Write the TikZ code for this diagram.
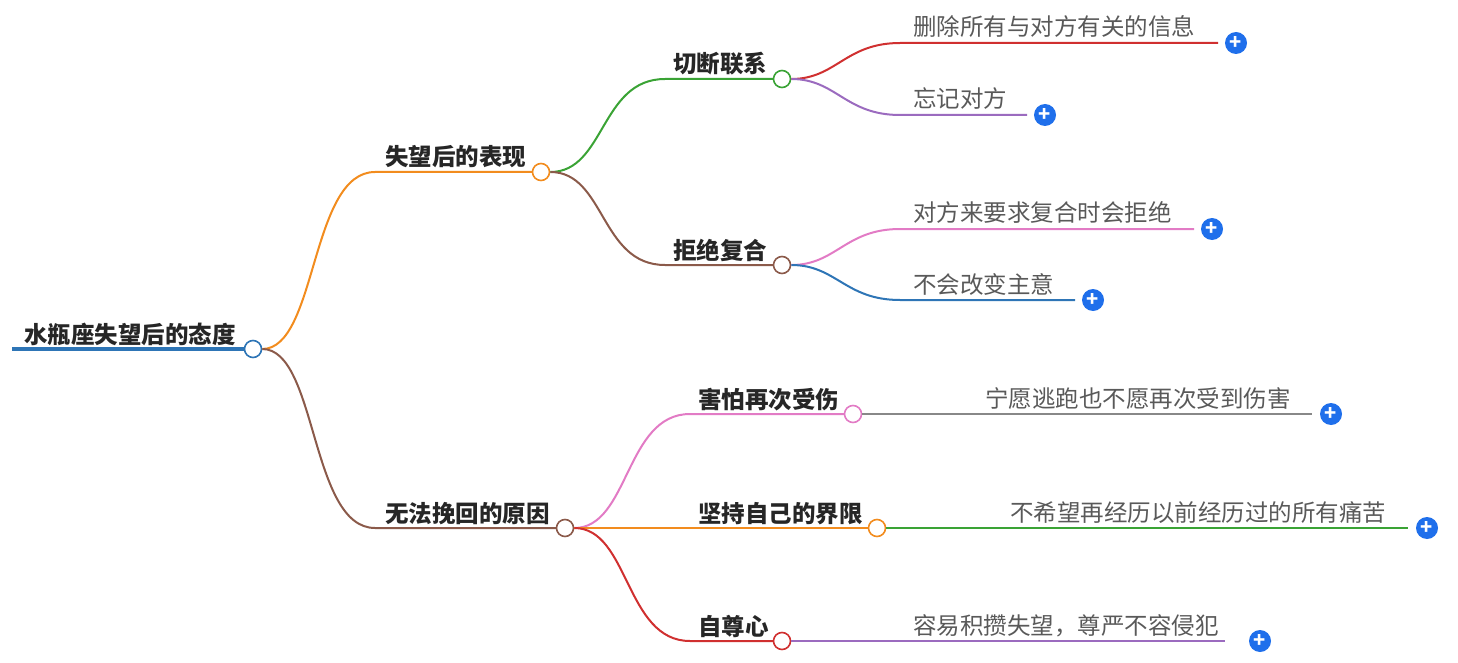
\documentclass[tikz,border=0pt]{standalone}
\usepackage{fontspec}
\setmainfont{Noto Sans CJK SC}
\begin{document}
\begin{tikzpicture}[x=1pt,y=-1pt,
  dot/.style={circle,draw=#1,fill=white,line width=1.6pt,minimum size=17pt,inner sep=0pt},
  br/.style={line width=2pt,draw=#1},
  lbl/.style={font=\fontsize{23.5}{23}\selectfont\bfseries,text=black!85,anchor=base west,inner sep=0pt},
  leaf/.style={font=\fontsize{23.5}{23}\selectfont,text=black!65,anchor=base west,inner sep=0pt},
  plus/.style={circle,fill=blue!70!cyan!90!black,minimum size=22pt,inner sep=0pt,text=white,font=\fontsize{20}{20}\selectfont\bfseries}]
\useasboundingbox (0,0) rectangle (1458,663);
\definecolor{cor}{HTML}{F28C1E}\definecolor{cbr}{HTML}{8B5A4A}\definecolor{cgr}{HTML}{3AA335}
\definecolor{cre}{HTML}{D03030}\definecolor{cpu}{HTML}{9B6BBF}\definecolor{cpi}{HTML}{E27BC5}
\definecolor{cbl}{HTML}{2E75B6}\definecolor{cgy}{HTML}{888888}\definecolor{cpl}{HTML}{1F6FEB}
% root
\draw[line width=4pt,cbl] (12,349) -- (245,349);
\node[lbl] at (24,343) {水瓶座失望后的态度};
\node[dot=cbl] (r) at (253,349) {};
% level1 positions
\coordinate (a0) at (375,172); \coordinate (b0) at (375,528);
\draw[br=cor] (r.east) .. controls +(55,0) and +(-65,0) .. (a0) -- (533,172);
\draw[br=cbr] (r.east) .. controls +(55,0) and +(-65,0) .. (b0) -- (557,528);
\node[lbl] at (385,166) {失望后的表现};
\node[lbl] at (385,522) {无法挽回的原因};
\node[dot=cor] (a) at (541,172) {};
\node[dot=cbr] (b) at (565,528) {};
% level2
\coordinate (a1s) at (665,79); \coordinate (a2s) at (665,265);
\draw[br=cgr] (a.east) .. controls +(55,0) and +(-65,0) .. (a1s) -- (774,79);
\draw[br=cbr] (a.east) .. controls +(55,0) and +(-65,0) .. (a2s) -- (774,265);
\node[lbl] at (673,73) {切断联系};
\node[lbl] at (673,259) {拒绝复合};
\node[dot=cgr] (a1) at (782,79) {};
\node[dot=cbr] (a2) at (782,265) {};
\coordinate (b1s) at (690,414); \coordinate (b2s) at (690,528); \coordinate (b3s) at (690,641);
\draw[br=cpi] (b.east) .. controls +(55,0) and +(-65,0) .. (b1s) -- (845,414);
\draw[br=cor] (b.east) -- (869,528);
\draw[br=cre] (b.east) .. controls +(55,0) and +(-65,0) .. (b3s) -- (774,641);
\node[lbl] at (698,408) {害怕再次受伤};
\node[lbl] at (698,522) {坚持自己的界限};
\node[lbl] at (698,635) {自尊心};
\node[dot=cpi] (b1) at (853,414) {};
\node[dot=cor] (b2) at (877,528) {};
\node[dot=cre] (b3) at (782,641) {};
% leaves
\coordinate (l1) at (900,43); \coordinate (l2) at (900,115);
\coordinate (l3) at (900,229); \coordinate (l4) at (900,300);
\draw[br=cre] (a1.east) .. controls +(45,0) and +(-55,0) .. (l1) -- (1218,43);
\draw[br=cpu] (a1.east) .. controls +(45,0) and +(-55,0) .. (l2) -- (1027,115);
\draw[br=cpi] (a2.east) .. controls +(45,0) and +(-55,0) .. (l3) -- (1194,229);
\draw[br=cbl] (a2.east) .. controls +(45,0) and +(-55,0) .. (l4) -- (1075,300);
\draw[br=cgy] (b1.east) -- (1312,414);
\draw[br=cgr] (b2.east) -- (1408,528);
\draw[br=cpu] (b3.east) -- (1225,641);
\node[leaf] at (913,36) {删除所有与对方有关的信息};
\node[leaf] at (913,108) {忘记对方};
\node[leaf] at (913,222) {对方来要求复合时会拒绝};
\node[leaf] at (913,293) {不会改变主意};
\node[leaf] at (985,407) {宁愿逃跑也不愿再次受到伤害};
\node[leaf] at (1010,521) {不希望再经历以前经历过的所有痛苦};
\node[leaf] at (913,634) {容易积攒失望，尊严不容侵犯};
\foreach \n/\x/\y in {p1/1236/43,p2/1045/115,p3/1212/229,p4/1093/300,p5/1331/414,p6/1427/528,p7/1260/641}
  \node[plus,fill=cpl] (\n) at (\x,\y) {+};
\end{tikzpicture}
\end{document}
